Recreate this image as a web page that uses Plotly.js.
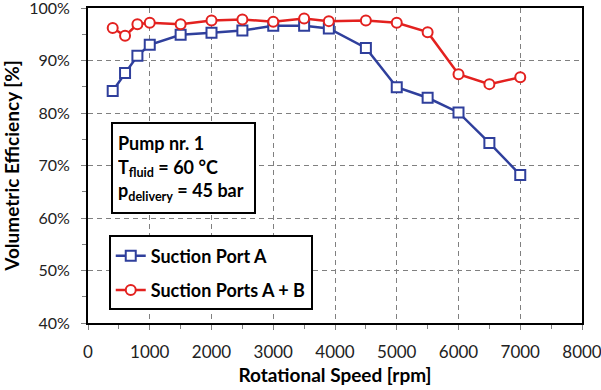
<!DOCTYPE html>
<html>
<head>
<meta charset="utf-8">
<script src="https://cdn.plot.ly/plotly-3.0.1.min.js"></script>
<style>html,body{margin:0;padding:0;background:#fff;}#chart{width:601px;height:390px;}</style>
</head>
<body>
<div id="chart"></div>
<script>
var speedA = [400, 600, 800, 1000, 1500, 2000, 2500, 3000, 3500, 3900, 4500, 5000, 5500, 6000, 6500, 7000];
var effA   = [84.2, 87.6, 90.9, 93.0, 94.9, 95.3, 95.7, 96.6, 96.6, 96.1, 92.4, 84.9, 82.9, 80.1, 74.3, 68.2];
var speedAB = [400, 600, 800, 1000, 1500, 2000, 2500, 3000, 3500, 3900, 4500, 5000, 5500, 6000, 6500, 7000];
var effAB   = [96.2, 94.7, 96.9, 97.2, 96.9, 97.6, 97.8, 97.4, 98.0, 97.5, 97.6, 97.2, 95.4, 87.4, 85.5, 86.8];
var seriesNames = ['Suction Port A', 'Suction Ports A + B'];
var xTitle = 'Rotational Speed [rpm]';
var yTitle = 'Volumetric Efficiency [%]';
var infoText = '<b>Pump nr. 1<br>T<sub>fluid</sub> = 60 °C<br>p<sub>delivery</sub> = 45 bar</b>';

var FONT = 'Lato, "Open Sans", sans-serif';
var traces = [
  {x: speedA, y: effA, name: seriesNames[0], type: 'scatter', mode: 'lines+markers',
   legendgroup: 'a',
   line: {color: '#2f3f9c', width: 2.5},
   marker: {symbol: 'square', size: 10, color: '#ffffff', line: {color: '#2f3f9c', width: 2}}},
  {x: speedAB, y: effAB, name: seriesNames[1], type: 'scatter', mode: 'lines+markers',
   legendgroup: 'b',
   line: {color: '#e3211f', width: 2.5},
   marker: {symbol: 'circle', size: 10, color: '#ffffff', line: {color: '#e3211f', width: 2}}}
];

var axisCommon = {
  showline: true, linecolor: '#000', linewidth: 2, mirror: true,
  showgrid: true, gridcolor: '#808080', griddash: '5px,4px', gridwidth: 1,
  ticks: 'outside', ticklen: 5, tickcolor: '#808080', tickwidth: 1,
  zeroline: false, ticklabeloverflow: 'allow',
  tickfont: {family: FONT, size: 17, color: '#222'}
};

var layout = {
  width: 601, height: 390,
  margin: {l: 88, r: 19, t: 8, b: 67},
  paper_bgcolor: '#fff', plot_bgcolor: '#fff',
  font: {family: FONT, color: '#000'},
  showlegend: true,
  xaxis: Object.assign({}, axisCommon, {
    range: [0, 8000], dtick: 1000, tick0: 0, ticklabelstandoff: 8,
    minor: {dtick: 500, ticks: 'outside', ticklen: 4, tickcolor: '#808080', showgrid: false},
    title: {text: '<b>' + xTitle + '</b>', font: {family: FONT, size: 19, color: '#000'}, standoff: 7}
  }),
  yaxis: Object.assign({}, axisCommon, {
    range: [40, 100], dtick: 10, tick0: 40, ticksuffix: '%', ticklabelstandoff: 8,
    tickfont: {family: FONT, size: 16, color: '#222'},
    minor: {dtick: 5, ticks: 'outside', ticklen: 4, tickcolor: '#808080', showgrid: false},
    title: {text: '<b>' + yTitle + '</b>', font: {family: FONT, size: 19, color: '#000'}, standoff: 16}
  }),
  legend: {
    x: 0.042, y: 0.278, xanchor: 'left', yanchor: 'top',
    bgcolor: '#fff', bordercolor: '#000', borderwidth: 2,
    font: {family: FONT, size: 18, color: '#000', weight: 'bold'},
    traceorder: 'grouped', tracegroupgap: 8, itemwidth: 30
  },
  annotations: [{
    xref: 'paper', yref: 'paper', x: 0.046, y: 0.637, xanchor: 'left', yanchor: 'top',
    text: infoText, showarrow: false, align: 'left', valign: 'middle',
    width: 131, height: 78,
    font: {family: FONT, size: 18, color: '#000'},
    bgcolor: '#fff', bordercolor: '#000', borderwidth: 2, borderpad: 5
  }]
};

Plotly.newPlot('chart', traces, layout, {displayModeBar: false, staticPlot: true});
</script>
</body>
</html>
